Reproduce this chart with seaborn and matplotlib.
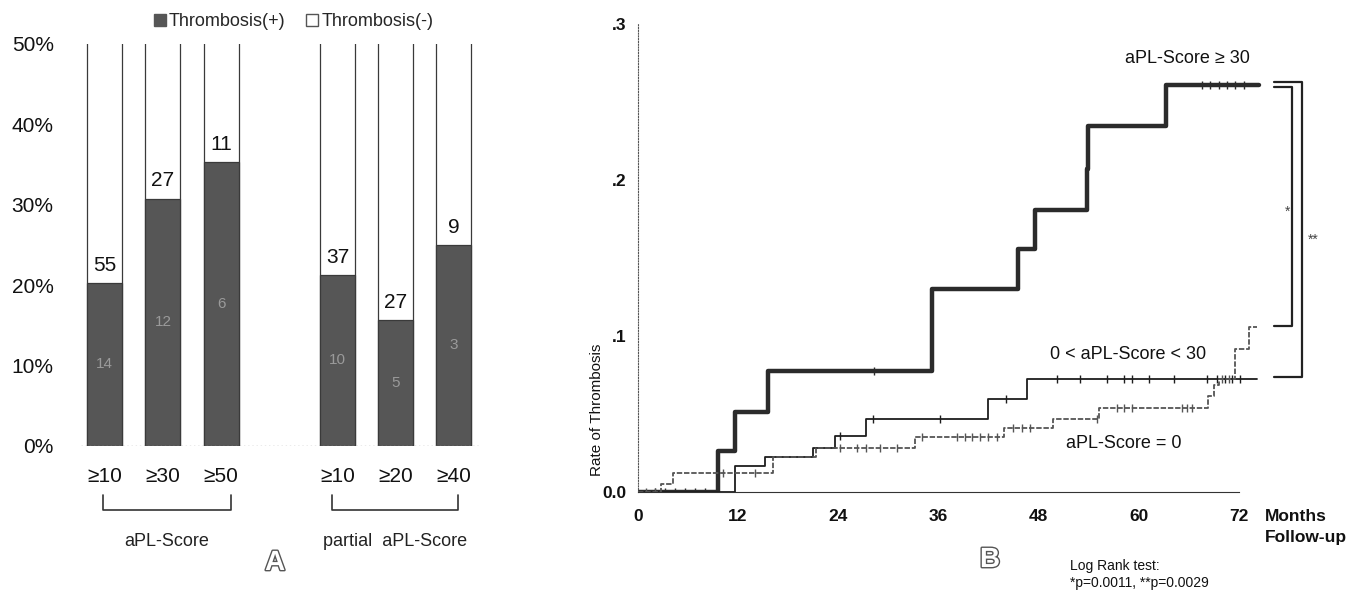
import numpy as np
import pandas as pd
import matplotlib.pyplot as plt
import seaborn as sns
from matplotlib.lines import Line2D
import matplotlib.patheffects as pe

# ---- panel A data: counts per bar ----
bar_labels = ["≥10", "≥30", "≥50", "≥10", "≥20", "≥40"]
bar_pos = [0, 1, 2, 4, 5, 6]
thromb_pos = [14, 12, 6, 10, 5, 3]      # Thrombosis(+)
thromb_neg = [55, 27, 11, 37, 27, 9]    # Thrombosis(-)
group_names = ["aPL-Score", "partial  aPL-Score"]

# ---- panel B data: cumulative rate of thrombosis (step curves) ----
hi_t = [0, 9.6, 11.6, 15.6, 35.3, 45.5, 47.6, 53.8, 54.0, 63.3, 74.4]
hi_v = [0, 0.026, 0.051, 0.0775, 0.130, 0.156, 0.181, 0.207, 0.235, 0.261, 0.261]
mid_t = [0, 11.6, 15.2, 21.0, 23.6, 27.3, 42.0, 46.6, 74.2]
mid_v = [0, 0.0167, 0.0222, 0.028, 0.0359, 0.0465, 0.0598, 0.0727, 0.0727]
zero_t = [0, 2.8, 4.2, 16.2, 21.3, 33.2, 43.9, 49.8, 55.2, 68.3, 69.0, 69.6, 71.6, 73.2, 74.2]
zero_v = [0, 0.005, 0.012, 0.0222, 0.028, 0.035, 0.0408, 0.047, 0.054, 0.0615, 0.0686, 0.0727, 0.092, 0.106, 0.106]

# censored observations (months)
hi_cens = [2.0, 3.2, 4.4, 5.6, 6.8, 8.0, 28.3, 67.6, 68.6, 69.6, 70.6, 71.6, 72.6]
mid_cens = [24.2, 28.2, 36.2, 44.1, 50.2, 53.0, 56.2, 58.2, 59.2, 61.2, 64.2, 68.2, 69.4, 70.4, 71.2, 72.2]
zero_cens = [1.0, 2.0, 10.2, 14.0, 24.2, 26.3, 27.3, 29.0, 31.0, 34.0, 38.2, 39.2, 40.0, 41.0,
             42.0, 43.0, 45.0, 46.0, 47.0, 55.0, 57.4, 58.2, 59.2, 65.2, 65.8, 66.4, 70.0, 70.8]

sns.set_style("white")
plt.rcParams['font.family'] = ['Liberation Sans', 'DejaVu Sans']
narrow = ['Liberation Sans Narrow', 'Liberation Sans', 'DejaVu Sans']

fig = plt.figure(figsize=(13.53, 5.93), dpi=100)

# ================= Panel A =================
ax = fig.add_axes([0.0602, 0.2479, 0.2945, 0.678])
df = pd.DataFrame({'pos': bar_pos, 'plus': thromb_pos, 'minus': thromb_neg})
df['share'] = df['plus'] / (df['plus'] + df['minus'])
df['full'] = 1.0

sns.barplot(data=df, x='pos', y='full', native_scale=True, width=0.6, color='white',
            edgecolor='#3a3a3a', linewidth=0.9, saturation=1, ax=ax)
sns.barplot(data=df, x='pos', y='share', native_scale=True, width=0.6, color='#565656',
            edgecolor='#3a3a3a', linewidth=0.9, saturation=1, ax=ax)

for p, s, n_plus, n_minus in zip(df['pos'], df['share'], df['plus'], df['minus']):
    ax.text(p, s + 0.022, str(n_minus), ha='center', va='center', fontsize=15, color='#111')
    ax.text(p, s / 2, str(n_plus), ha='center', va='center', fontsize=11, color='#9a9a9a')

ax.axhline(0, color='#999999', lw=1, ls=(0, (1, 2)))
ax.set_xlim(-0.4, 6.45)
ax.set_ylim(0, 0.5)
ax.set_yticks(np.arange(0, 0.51, 0.1))
ax.set_yticklabels([f"{int(round(v * 100))}%" for v in np.arange(0, 0.51, 0.1)])
ax.set_xticks(bar_pos)
ax.set_xticklabels(bar_labels)
ax.tick_params(axis='y', length=0, pad=20, labelsize=15, labelcolor='#111')
ax.tick_params(axis='x', length=0, pad=15, labelsize=15, labelcolor='#111')
ax.set_xlabel('')
ax.set_ylabel('')
sns.despine(ax=ax, left=True, bottom=True)

# group brackets under the tick labels
for (x0, x1), name in zip([(-0.03, 2.17), (3.9, 6.07)], group_names):
    ax.plot([x0, x0, x1, x1], [-0.122, -0.159, -0.159, -0.122], color='#333', lw=1.2,
            transform=ax.get_xaxis_transform(), clip_on=False)
    ax.text((x0 + x1) / 2, -0.238, name, ha='center', va='center', fontsize=13,
            color='#222', transform=ax.get_xaxis_transform())

handles = [Line2D([], [], marker='s', ls='none', color='#565656', markersize=8),
           Line2D([], [], marker='s', ls='none', markerfacecolor='white',
                  markeredgecolor='#555', markersize=8)]
ax.legend(handles, ['Thrombosis(+)', 'Thrombosis(-)'], loc='center', bbox_to_anchor=(0.533, 1.055),
          ncol=2, frameon=False, fontsize=13, handlelength=0.6, handletextpad=0.2,
          columnspacing=1.2, borderaxespad=0)

fig.text(0.2033, 0.0506, 'A', ha='center', va='center', fontsize=20, fontweight='bold', color='white',
         path_effects=[pe.withStroke(linewidth=2, foreground='#555')])

# ================= Panel B =================
bx = fig.add_axes([0.4715, 0.1703, 0.518, 0.789])
curves = [
    (hi_t, hi_v, hi_cens, dict(color='#2b2b2b', lw=3.2, ls='-')),
    (mid_t, mid_v, mid_cens, dict(color='#1e1e1e', lw=1.3, ls='-')),
    (zero_t, zero_v, zero_cens, dict(color='#555555', lw=1.3, ls=(0, (3, 1)))),
]
for t, v, cens, style in curves:
    sns.lineplot(x=t, y=v, drawstyle='steps-post', estimator=None, sort=False, ax=bx,
                 color=style['color'], linewidth=style['lw'], linestyle=style['ls'])
    t_arr, v_arr = np.array(t), np.array(v)
    cy = v_arr[np.searchsorted(t_arr, cens, side='right') - 1]
    bx.plot(cens, cy, ls='none', marker='|', markersize=6, mew=1, color=style['color'])

bx.set_xlim(0, 84)
bx.set_ylim(0, 0.3)
bx.set_xticks(np.arange(0, 73, 12))
bx.set_yticks([0, 0.1, 0.2, 0.3])
bx.set_yticklabels(['0.0', '.1', '.2', '.3'])
for lab in bx.get_xticklabels() + bx.get_yticklabels():
    lab.set_family(narrow)
    lab.set_fontweight('bold')
bx.tick_params(axis='both', length=3, width=1, color='#333', labelsize=12.5, labelcolor='#111')
bx.tick_params(axis='x', pad=9)
bx.tick_params(axis='y', pad=5)
bx.spines['right'].set_visible(False)
bx.spines['top'].set_visible(False)
bx.spines['left'].set_bounds(0, 0.3)
bx.spines['left'].set_linestyle((0, (1, 1.5)))
bx.spines['left'].set_color('#555')
bx.spines['bottom'].set_bounds(0, 72)
bx.spines['bottom'].set_color('#333')
bx.set_xlabel('')
bx.set_ylabel('')

# curve labels
bx.text(65.8, 0.278, 'aPL-Score ≥ 30', ha='center', va='center', fontsize=13, family=narrow, color='#111')
bx.text(58.8, 0.088, '0 < aPL-Score < 30', ha='center', va='center', fontsize=13, family=narrow, color='#111')
bx.text(58.2, 0.031, 'aPL-Score = 0', ha='center', va='center', fontsize=13, family=narrow, color='#111')

# significance brackets
bx.plot([76.2, 78.4, 78.4, 76.2], [0.260, 0.260, 0.1064, 0.1064], color='#222', lw=1.6, clip_on=False)
bx.plot([76.2, 79.6, 79.6, 76.2], [0.2626, 0.2626, 0.0735, 0.0735], color='#222', lw=1.6, clip_on=False)
bx.text(77.9, 0.180, '*', ha='center', va='center', fontsize=10, color='#444')
bx.text(80.9, 0.162, '**', ha='center', va='center', fontsize=10, color='#444')

fig.text(0.441, 0.3086, 'Rate of Thrombosis', rotation=90, ha='center', va='center',
         fontsize=11, family=narrow, color='#111')
fig.text(0.935, 0.1298, 'Months', ha='left', va='center', fontsize=12.5, family=narrow,
         fontweight='bold', color='#111')
fig.text(0.935, 0.0944, 'Follow-up', ha='left', va='center', fontsize=12.5, family=narrow,
         fontweight='bold', color='#111')
fig.text(0.7317, 0.0556, 'B', ha='center', va='center', fontsize=20, fontweight='bold', color='white',
         path_effects=[pe.withStroke(linewidth=2, foreground='#555')])
fig.text(0.791, 0.0455, 'Log Rank test:', ha='left', va='center', fontsize=10, family=narrow, color='#111')
fig.text(0.791, 0.0169, '*p=0.0011, **p=0.0029', ha='left', va='center', fontsize=10,
         family=narrow, color='#111')

fig.savefig('out.png', dpi=100)
